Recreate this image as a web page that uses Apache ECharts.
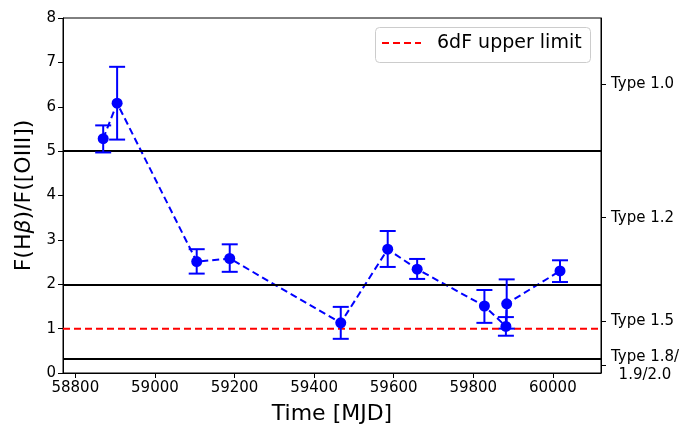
<!DOCTYPE html>
<html>
<head>
<meta charset="utf-8">
<script src="https://cdn.jsdelivr.net/npm/echarts@6/dist/echarts.min.js"></script>
<style>html,body{margin:0;padding:0;background:#fff}#c{width:684px;height:426px}</style>
</head>
<body>
<div id="c"></div>
<script>
// Observations (MJD), flux ratio and error-bar bounds
const mjd   = [58870, 58905, 59105, 59188, 59467, 59585, 59659, 59828, 59882, 59884, 60018];
const ratio = [5.28, 6.08, 2.51, 2.58, 1.13, 2.79, 2.34, 1.51, 1.05, 1.56, 2.30];
const lower = [4.97, 5.26, 2.24, 2.28, 0.77, 2.39, 2.12, 1.13, 0.84, 1.00, 2.05];
const upper = [5.58, 6.90, 2.79, 2.90, 1.49, 3.20, 2.57, 1.87, 1.26, 2.11, 2.54];
// Type boundaries (black lines) and 6dF upper limit
const typeBounds = [5, 2, 0.33];
const upperLimit = 1;
const legendLabel = '6dF upper limit';
// Right-axis type labels
const typeLabelPos = [6.5, 3.5, 1.165, 0.165];
const typeLabels = ['Type 1.0', 'Type 1.2', 'Type 1.5', 'Type 1.8/\n1.9/2.0'];
const xTicks = [58800, 59000, 59200, 59400, 59600, 59800, 60000];
const xMin = 58769, xMax = 60121;

const F = 'DejaVu Sans';
const chart = echarts.init(document.getElementById('c'), null, {renderer: 'canvas'});
const pts = mjd.map((x, i) => [x, ratio[i]]);
const errData = mjd.map((x, i) => [x, ratio[i], lower[i], upper[i]]);

chart.setOption({
  animation: false,
  grid: {left: 63, right: 83, top: 18, bottom: 53, show: true, borderColor: '#000', borderWidth: 1,
         outerBoundsMode: 'none', containLabel: false},
  graphic: [
    {type: 'rect', left: 375, top: 27, z: 100,
     shape: {width: 215, height: 35, r: 4},
     style: {fill: 'rgba(255,255,255,0.8)', stroke: '#cccccc', lineWidth: 1}},
    {type: 'line', z: 101,
     shape: {x1: 382, y1: 43, x2: 421, y2: 43},
     style: {stroke: '#ff0000', lineWidth: 2, lineDash: [7, 4]}},
    {type: 'text', left: 437, top: 34, z: 101,
     style: {text: legendLabel, fontFamily: F, fontSize: 19, fill: '#000'}}
  ],
  xAxis: {
    type: 'value', min: xMin, max: xMax,
    name: 'Time [MJD]', nameLocation: 'middle', nameGap: 30,
    nameTextStyle: {fontFamily: F, fontSize: 22, color: '#000'},
    axisLine: {show: true, lineStyle: {color: '#000', width: 1}},
    axisTick: {show: true, length: 5, lineStyle: {color: '#000'}, customValues: xTicks},
    axisLabel: {fontFamily: F, fontSize: 15, color: '#000', margin: 8, customValues: xTicks,
                formatter: v => String(v)},
    splitLine: {show: false}
  },
  yAxis: [{
    type: 'value', min: 0, max: 8, interval: 1,
    name: 'F(H{i|β})/F([OIII])', nameLocation: 'middle', nameGap: 28,
    nameTextStyle: {fontFamily: F, fontSize: 22, color: '#000', rich: {i: {fontFamily: F, fontSize: 22, fontStyle: 'italic'}}},
    axisLine: {show: true, lineStyle: {color: '#000', width: 1}},
    axisTick: {show: true, length: 5, lineStyle: {color: '#000'}},
    axisLabel: {fontFamily: F, fontSize: 15, color: '#000', margin: 7},
    splitLine: {show: false}
  }, {
    type: 'value', min: 0, max: 8, position: 'right',
    axisLine: {show: true, lineStyle: {color: '#000', width: 1}},
    axisTick: {show: true, length: 5, lineStyle: {color: '#000'}, customValues: typeLabelPos},
    axisLabel: {
      fontFamily: F, fontSize: 15, color: '#000', margin: 10, lineHeight: 18,
      customValues: typeLabelPos,
      formatter: function (v) {
        const i = typeLabelPos.indexOf(v);
        if (i === 3) return '{c|Type 1.8/}\n{c|1.9/2.0}';
        return i >= 0 ? typeLabels[i] : '';
      },
      rich: {c: {fontFamily: F, fontSize: 15, color: '#000', width: 68, align: 'center', lineHeight: 18}}
    },
    splitLine: {show: false}
  }],
  series: [
    {
      name: 'bounds', type: 'line', data: [], silent: true,
      markLine: {
        silent: true, symbol: 'none', label: {show: false},
        lineStyle: {color: '#000', type: 'solid', width: 2},
        data: typeBounds.map(v => ({yAxis: v}))
      }
    },
    {
      name: legendLabel, type: 'line', showSymbol: false, symbol: 'none',
      data: [[xMin, upperLimit], [xMax, upperLimit]],
      lineStyle: {color: '#ff0000', type: [7, 4], width: 2},
      itemStyle: {color: '#ff0000'}, z: 3
    },
    {
      name: 'data', type: 'line', data: pts,
      symbol: 'circle', symbolSize: 11,
      lineStyle: {color: '#0000ff', type: [7, 4], width: 2},
      itemStyle: {color: '#0000ff'}, z: 4
    },
    {
      name: 'err', type: 'custom', data: errData, z: 5,
      renderItem: function (params, api) {
        const x = api.value(0);
        const lo = api.coord([x, api.value(2)]);
        const hi = api.coord([x, api.value(3)]);
        const w = 8;
        const st = {stroke: '#0000ff', lineWidth: 2};
        return {type: 'group', children: [
          {type: 'line', shape: {x1: lo[0], y1: lo[1], x2: hi[0], y2: hi[1]}, style: st},
          {type: 'line', shape: {x1: lo[0] - w, y1: lo[1], x2: lo[0] + w, y2: lo[1]}, style: st},
          {type: 'line', shape: {x1: hi[0] - w, y1: hi[1], x2: hi[0] + w, y2: hi[1]}, style: st}
        ]};
      }
    }
  ]
});
</script>
</body>
</html>
